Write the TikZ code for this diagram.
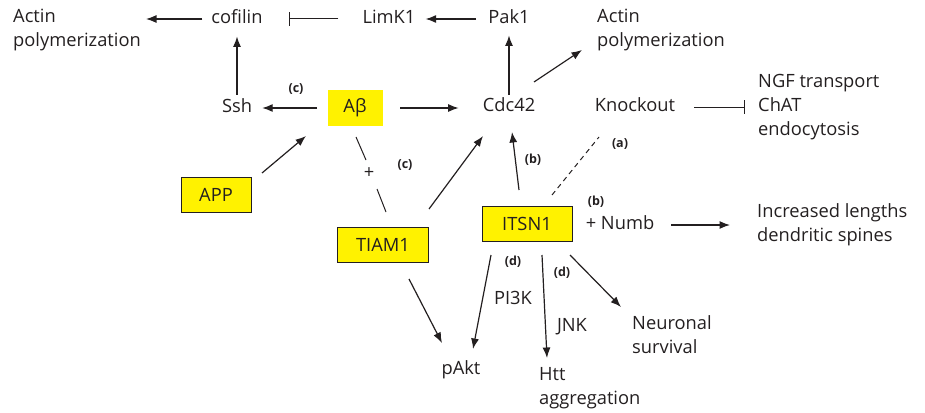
\documentclass[tikz,border=0pt]{standalone}
\usepackage{fontspec}
\setmainfont{Open Sans}
\usetikzlibrary{arrows.meta}
\definecolor{txt}{HTML}{231F20}
\definecolor{yel}{HTML}{FFF200}
\tikzset{
  lbl/.style={inner sep=0pt, text=txt, font=\fontsize{18.3}{24}\selectfont, text height=13pt, text depth=3.5pt},
  mlbl/.style={inner sep=0pt, text=txt, font=\fontsize{18.3}{24}\selectfont, align=left, anchor=west},
  ybox/.style={draw=txt, fill=yel, line width=1pt, inner sep=0pt, text=txt, font=\fontsize{18.3}{24}\selectfont},
  tag/.style={inner sep=0pt, text=txt, font=\fontsize{12.5}{14}\selectfont\bfseries},
  arr/.style={draw=txt, line width=1.2pt, -{Latex[length=10.5pt,width=8pt]}},
  inh/.style={draw=txt, line width=1pt, -{Bar[width=14pt,line width=1pt]}},
  ln/.style={draw=txt, line width=1pt},
}
\begin{document}
\begin{tikzpicture}[x=1pt,y=-1pt]
\useasboundingbox (0,0) rectangle (925,412);
% text nodes
\node[mlbl] (actin1) at (13,30) {Actin\\polymerization};
\node[lbl] (cofilin) at (237,19) {cofilin};
\node[lbl] (limk) at (389,19) {LimK1};
\node[lbl] (pak) at (509,19) {Pak1};
\node[mlbl] (actin2) at (597,30) {Actin\\polymerization};
\node[lbl] (ssh) at (237,108) {Ssh};
\node[ybox, draw=none, minimum width=55pt, minimum height=36pt] (abeta) at (355,108) {Aβ};
\node[lbl] (cdc) at (509,107) {Cdc42};
\node[lbl] (knock) at (635,107) {Knockout};
\node[mlbl] (ngf) at (758,107) {NGF transport\\ChAT\\endocytosis};
\node[ybox, minimum width=70pt, minimum height=35pt] (app) at (216,195) {APP};
\node[ybox, minimum width=91pt, minimum height=35pt] (tiam) at (383,245) {TIAM1};
\node[ybox, minimum width=90pt, minimum height=35pt] (itsn) at (527,224) {ITSN1};
\node[lbl] (numb) at (620,225) {+ Numb};
\node[mlbl] (incr) at (757,225) {Increased lengths\\dendritic spines};
\node[lbl] (plus) at (369,174) {+};
\node[lbl] (pakt) at (461,370) {pAkt};
\node[lbl] (pi3k) at (513,300) {PI3K};
\node[lbl] (jnk) at (572,327) {JNK};
\node[mlbl] (htt) at (539,388) {Htt\\aggregation};
\node[mlbl] (neur) at (632,335) {Neuronal\\survival};
% tags
\node[tag] (c1) at (296,89) {(c)};
\node[tag] (c2) at (405,165) {(c)};
\node[tag] (b1) at (533,160) {(b)};
\node[tag] (a1) at (620,144) {(a)};
\node[tag] (b2) at (596,202) {(b)};
\node[tag] (d1) at (513,262) {(d)};
\node[tag] (d2) at (562,273) {(d)};
% connectors
\draw[arr, shorten <=9pt, shorten >=5pt] (cofilin.west) -- (cofilin.west -| actin1.east);
\draw[inh, shorten <=24pt, shorten >=26pt] (limk.west) -- (cofilin.east);
\draw[arr, shorten <=12pt, shorten >=10pt] (pak.west) -- (limk.east);
\draw[arr, shorten <=4pt, shorten >=8pt] (cdc.north) -- (pak.south);
\draw[arr] ([shift={(25,-25)}]cdc.center) -- ([shift={(-15,20)}]actin2.west);
\draw[arr, shorten <=10pt, shorten >=10pt] (abeta.west) -- (ssh.east);
\draw[arr, shorten <=5pt, shorten >=9pt] (ssh.north) -- (cofilin.south);
\draw[arr, shorten <=17pt, shorten >=24pt] (abeta.east) -- (abeta.east -| cdc.west);
\draw[arr] ([shift={(46,-22)}]app.center) -- ([shift={(-49,28)}]abeta.center);
\draw[ln] ([shift={(1,29)}]abeta.center) -- ([shift={(-3,-14)}]plus.center);
\draw[ln] ([shift={(8,15)}]plus.center) -- ([shift={(3,-33)}]tiam.center);
\draw[arr] ([shift={(46,-36)}]tiam.center) -- ([shift={(-26,29)}]cdc.center);
\draw[arr] ([shift={(-8,-34)}]itsn.center) -- ([shift={(3,25)}]cdc.center);
\draw[ln, dash pattern=on 5pt off 4pt] ([shift={(25,-29)}]itsn.center) -- ([shift={(-36,30)}]knock.center);
\draw[inh, shorten <=19pt, shorten >=13pt] (knock.east) -- (knock.east -| ngf.west);
\draw[arr, shorten <=17pt, shorten >=27pt] (numb.east) -- (numb.east -| incr.west);
\draw[arr] ([shift={(-36,31)}]itsn.center) -- ([shift={(12,-21)}]pakt.center);
\draw[arr] ([shift={(15,31)}]itsn.center) -- ([shift={(8,-30)}]htt.west);
\draw[arr] ([shift={(43,31)}]itsn.center) -- ([shift={(-11,-28)}]neur.west);
\draw[arr] ([shift={(26,34)}]tiam.center) -- ([shift={(-19,-27)}]pakt.center);
\end{tikzpicture}
\end{document}
